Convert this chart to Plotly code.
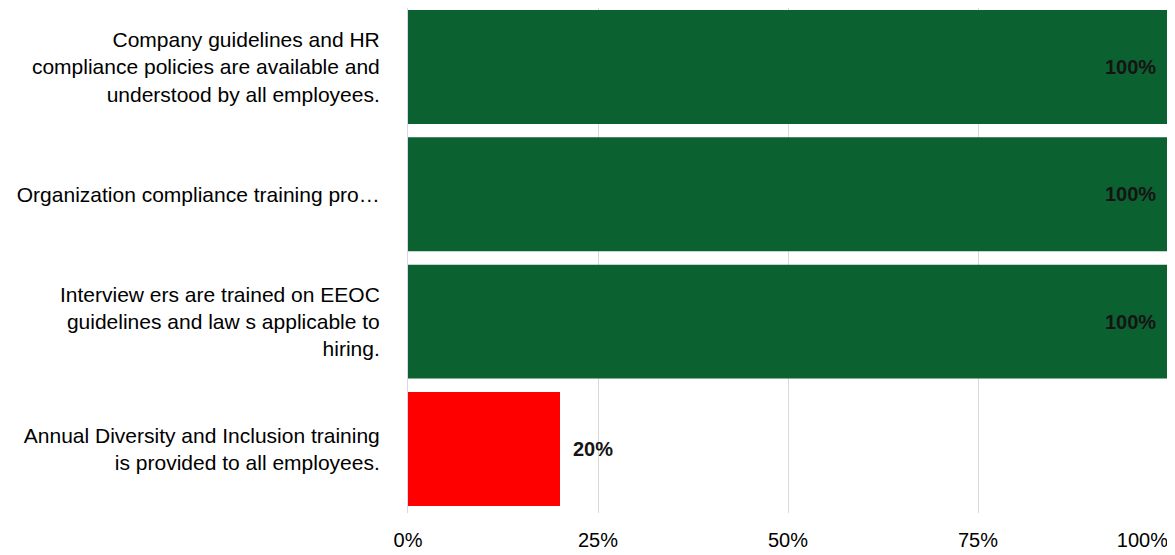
import plotly.graph_objects as go

categories = [
    "Company guidelines and HR<br>compliance policies are available and<br>understood by all employees.",
    "Organization compliance training pro…",
    "Interview ers are trained on EEOC<br>guidelines and law s applicable to<br>hiring.",
    "Annual Diversity and Inclusion training<br>is provided to all employees.",
]
values = [100, 100, 100, 20]
value_labels = ["100%", "100%", "100%", "20%"]
colors = ["#0c6130", "#0c6130", "#0c6130", "#ff0000"]
tick_vals = [0, 25, 50, 75]
tick_text = ["0%", "25%", "50%", "75%"]
end_tick_vals = [100]
end_tick_text = ["100%"]

fig = go.Figure()
fig.add_trace(go.Bar(
    x=values, y=list(range(len(categories))), orientation="h",
    marker=dict(color=colors, line=dict(width=0)),
    width=0.895, hoverinfo="skip",
))
# invisible helper trace to carry the right-aligned end tick
fig.add_trace(go.Scatter(x=[None], y=[None], xaxis="x2", yaxis="y",
                         mode="markers", showlegend=False, hoverinfo="skip"))

annotations = []
for i, (v, t) in enumerate(zip(values, value_labels)):
    inside = v >= 50
    annotations.append(dict(
        x=v, y=i, xref="x", yref="y", text="<b>" + t + "</b>", showarrow=False,
        xanchor="right" if inside else "left",
        xshift=-10 if inside else 11,
        font=dict(family="Liberation Sans", size=20, color="#141414"),
    ))

fig.update_layout(
    width=1167, height=547,
    margin=dict(l=400, r=7, t=0, b=42),
    paper_bgcolor="white", plot_bgcolor="white",
    showlegend=False,
    font=dict(family="Liberation Sans", size=21, color="#000000"),
    annotations=annotations,
    xaxis=dict(
        range=[0, 100], tickvals=tick_vals, ticktext=tick_text,
        showgrid=True, gridcolor="#d9d9d9", gridwidth=1,
        zeroline=False, showline=False, ticks="",
        ticklabelstandoff=13, automargin=False,
        tickfont=dict(size=20, color="#000000"),
    ),
    xaxis2=dict(
        range=[0, 100], overlaying="x", side="bottom",
        tickvals=end_tick_vals, ticktext=end_tick_text,
        ticklabelposition="outside left",
        showgrid=True, gridcolor="#d9d9d9", gridwidth=1,
        zeroline=False, showline=False, ticks="",
        ticklabelstandoff=13, automargin=False,
        tickfont=dict(size=20, color="#000000"),
    ),
    yaxis=dict(
        range=[3.503, -0.463],
        tickvals=list(range(len(categories))), ticktext=categories,
        showgrid=False, zeroline=False,
        showline=True, linecolor="#d8d8e6", linewidth=1,
        ticks="", ticklabelstandoff=23, automargin=False,
        tickfont=dict(size=21, color="#000000"),
    ),
)

fig.write_html("out.html")
